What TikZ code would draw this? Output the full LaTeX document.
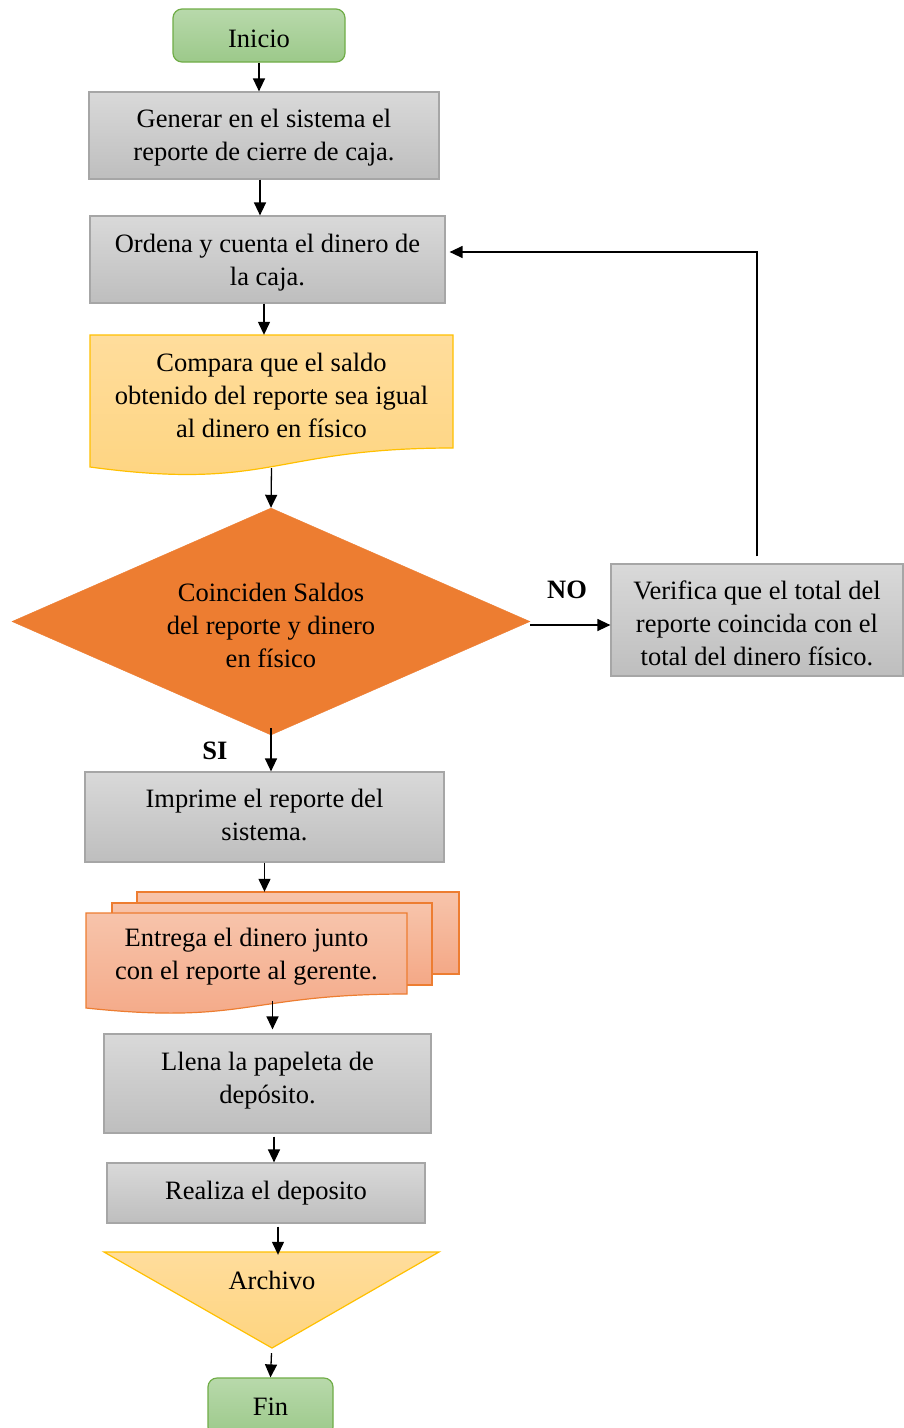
\documentclass[tikz,border=0pt]{standalone}
\usepackage{fontspec}
\setmainfont{Liberation Serif}
\usetikzlibrary{arrows.meta,shapes.geometric,calc}

\definecolor{grayTop}{HTML}{D9D9D9}
\definecolor{grayBot}{HTML}{BEBEBE}
\definecolor{grayLine}{HTML}{A6A6A6}
\definecolor{greenTop}{HTML}{B8D9AB}
\definecolor{greenBot}{HTML}{9CC98A}
\definecolor{greenLine}{HTML}{70AD47}
\definecolor{yelTop}{HTML}{FFDD9C}
\definecolor{yelBot}{HTML}{FED47F}
\definecolor{yelLine}{HTML}{FFC000}
\definecolor{salTop}{HTML}{F7C4AB}
\definecolor{salBot}{HTML}{F4A886}
\definecolor{salLine}{HTML}{ED7D31}
\definecolor{decFill}{HTML}{ED7D31}

\tikzset{
  txt/.style={font=\fontsize{26.5}{33}\selectfont, align=center, inner sep=0pt},
  lbl/.style={font=\fontsize{26.5}{33}\selectfont\bfseries, inner sep=0pt},
  procbox/.style={rectangle, draw=grayLine, line width=1.2pt,
    top color=grayTop, bottom color=grayBot, txt},
  term/.style={rectangle, rounded corners=9pt, draw=greenLine, line width=1.2pt,
    top color=greenTop, bottom color=greenBot, txt},
  decision/.style={diamond, aspect=2.28, fill=decFill, draw=decFill, txt},
  frame/.style={rectangle, inner sep=0pt},
  docshape/.style={draw=yelLine, line width=1.2pt, top color=yelTop, bottom color=yelBot},
  sheet/.style={draw=salLine, line width=1.2pt, top color=salTop, bottom color=salBot},
  arr/.style={line width=1.3pt, -{Triangle[length=13pt,width=12pt]}},
}

\begin{document}
\begin{tikzpicture}[x=1pt,y=-1pt]
\useasboundingbox (0,0) rectangle (903,1428);
\fill[white] (0,0) rectangle (903,1428);

% start and first two steps
\node[term, minimum width=172, minimum height=53, text height=24pt] (ini) at (259,35.5) {Inicio};
\node[procbox, minimum width=350, minimum height=87, text height=55pt] (b1) at (264,135.5)
  {Generar en el sistema el\\reporte de cierre de caja.};
\node[procbox, minimum width=355, minimum height=87, text height=57pt] (b2) at (267.5,259.5)
  {Ordena y cuenta el dinero de\\la caja.};

% document: compare balances
\path[docshape] (90,335) -- (453,335) -- (453,448)
  .. controls (271.5,448) and (271.5,491.5) .. (90,467) -- cycle;
\node[frame, minimum width=363, minimum height=133] (cmp) at (271.5,401.5) {};
\node[txt] (cmptxt) at (271.5,395)
  {Compara que el saldo\\obtenido del reporte sea igual\\al dinero en físico};

% decision
\node[decision, minimum width=518, minimum height=227, text height=92pt] (dec) at (271,621.5)
  {Coinciden Saldos\\del reporte y dinero\\en físico};
\node[procbox, minimum width=292, minimum height=112, text height=92pt] (ver) at (757,620)
  {Verifica que el total del\\reporte coincida con el\\total del dinero físico.};
\node[lbl] (no) at (567,590) {NO};
\node[lbl] (si) at (215,751) {SI};

\node[procbox, minimum width=359, minimum height=90, text depth=4pt] (imp) at (264.5,817)
  {Imprime el reporte del\\sistema.};

% multi-document: hand over money and report
\path[sheet] (137,892) rectangle (459,974);
\path[sheet] (112,903) rectangle (432,985);
\path[sheet] (86,913) -- (407,913) -- (407,994)
  .. controls (246.5,994) and (246.5,1025) .. (86,1008) -- cycle;
\node[frame, minimum width=373, minimum height=113] (ent) at (272.5,948.5) {};
\node[txt] (enttxt) at (246.5,956.5)
  {Entrega el dinero junto\\con el reporte al gerente.};

\node[procbox, minimum width=327, minimum height=99, text depth=11.5pt] (lle) at (267.5,1083.5)
  {Llena la papeleta de\\depósito.};
\node[procbox, minimum width=318, minimum height=60] (rea) at (266,1193)
  {Realiza el deposito};

% merge / archive
\path[docshape] (104,1252) -- (439,1252) -- (272,1348) -- cycle;
\node[frame, minimum width=335, minimum height=96] (arc) at (271.5,1300) {};
\node[txt] (arctxt) at (272,1280) {Archivo};

\node[term, minimum width=125, minimum height=58] (fin) at (270.5,1407) {Fin};

% connectors
\draw[arr] (ini.south) -- (ini.south |- b1.north);
\draw[arr] ([xshift=-4pt]b1.south) -- ([xshift=-4pt]b1.south |- b2.north);
\draw[arr] ([xshift=-3.5pt]b2.south) -- ([xshift=-3.5pt]b2.south |- cmp.north);
\draw[arr] (cmp.south) -- (dec.north);
\draw[arr] ([yshift=-3.5pt]dec.east) -- ([yshift=-3.5pt]dec.east -| ver.west);
\draw[arr] ($(ver.north)+(0,-7)$) |- ($(b2.east)+(4,-7.5)$);
\draw[arr] ([yshift=7pt]dec.south) -- (dec.south |- imp.north);
\draw[arr] (imp.south) -- (imp.south |- ent.north);
\draw[arr] ([yshift=4pt]ent.south) -- ([yshift=4pt]ent.south |- lle.north);
\draw[arr] ([xshift=6.5pt,yshift=-3pt]lle.south) -- ([xshift=6.5pt]lle.south |- rea.north);
\draw[arr] ([xshift=12pt,yshift=-3pt]rea.south) -- ([xshift=6.5pt,yshift=-3pt]arc.north);
\draw[arr] ([yshift=-5pt]arc.south) -- (fin.north);
\end{tikzpicture}
\end{document}
